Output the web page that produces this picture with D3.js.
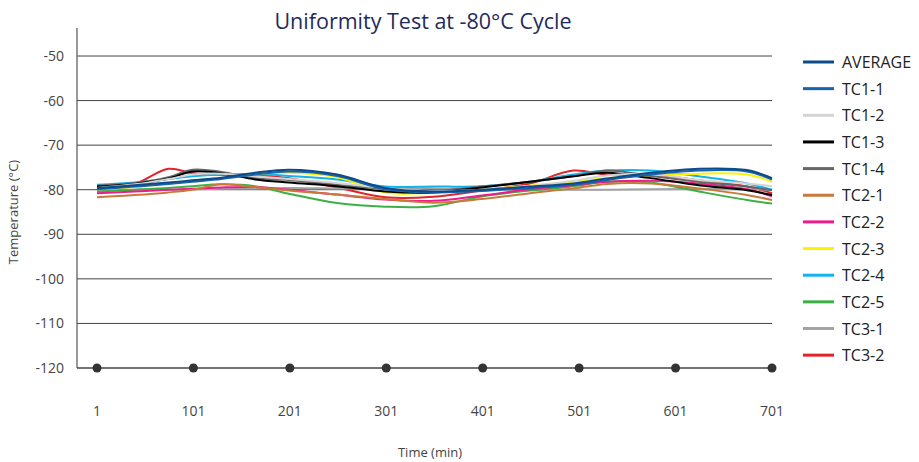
<!DOCTYPE html>
<html>
<head>
<meta charset="utf-8">
<script src="https://cdn.jsdelivr.net/npm/d3@7"></script>
<style>
  body { margin: 0; background: #fff; }
  svg { font-family: "Open Sans", "Noto Sans", sans-serif; }
</style>
</head>
<body>
<svg id="chart"></svg>
<script>
// sample times (min) shared by all series
const times = [1, 40, 75, 100, 130, 165, 200, 250, 300, 350, 400, 450, 495, 530, 575, 625, 675, 701];

const average = [-79.6, -79.0, -78.4, -77.9, -77.3, -76.2, -75.5, -76.6, -79.6, -80.4, -80.0, -79.3, -78.6, -77.5, -76.2, -75.3, -75.6, -77.4];
const tc11 = [-79.9, -79.3, -78.7, -78.2, -77.6, -76.6, -75.9, -76.9, -79.9, -80.6, -80.3, -79.6, -78.9, -77.8, -76.6, -75.7, -75.9, -77.7];
const tc12 = [-79.6, -78.8, -77.6, -76.6, -76.4, -77.0, -77.6, -78.5, -79.6, -80.3, -80.0, -79.2, -78.0, -76.8, -76.5, -77.8, -78.6, -79.2];
const tc13 = [-79.3, -78.7, -77.5, -75.9, -76.3, -77.7, -78.4, -79.2, -80.4, -80.6, -79.5, -78.2, -77.0, -76.2, -77.4, -79.0, -80.1, -81.2];
const tc14 = [-79.1, -78.5, -77.2, -75.5, -76.0, -77.4, -77.8, -78.9, -79.8, -80.2, -79.3, -78.2, -77.0, -75.7, -76.9, -78.2, -79.3, -80.1];
const tc21 = [-81.7, -81.2, -80.6, -80.0, -78.8, -79.4, -80.2, -81.1, -82.1, -82.9, -82.1, -80.8, -79.7, -78.7, -78.6, -79.7, -81.2, -82.3];
const tc22 = [-80.8, -80.4, -80.0, -79.8, -79.5, -79.4, -80.0, -81.1, -82.2, -82.5, -81.3, -79.9, -79.0, -78.2, -78.0, -78.6, -79.9, -81.5];
const tc23 = [-79.9, -79.4, -78.6, -78.0, -77.4, -76.5, -76.2, -77.2, -80.6, -80.7, -80.0, -79.1, -78.2, -77.4, -76.9, -76.4, -76.6, -78.2];
const tc24 = [-78.9, -78.4, -77.6, -77.0, -76.6, -76.5, -76.9, -77.7, -79.3, -79.3, -79.2, -78.2, -76.6, -75.7, -75.7, -77.0, -78.6, -80.0];
const tc25 = [-80.4, -80.0, -79.6, -79.2, -78.8, -79.2, -80.9, -83.0, -83.8, -83.7, -81.5, -80.2, -79.2, -78.2, -78.4, -80.4, -82.3, -83.1];
const tc31 = [-80.0, -80.0, -80.0, -79.9, -79.8, -79.7, -79.6, -79.7, -79.8, -79.7, -79.9, -80.0, -80.0, -80.0, -79.9, -79.8, -79.9, -80.0];
const tc32 = [-79.3, -78.7, -75.3, -76.3, -76.7, -76.7, -77.4, -79.5, -81.7, -81.6, -80.2, -78.6, -75.7, -76.6, -76.6, -77.9, -79.3, -80.8];

const seriesNames = ["AVERAGE", "TC1-1", "TC1-2", "TC1-3", "TC1-4", "TC2-1", "TC2-2", "TC2-3", "TC2-4", "TC2-5", "TC3-1", "TC3-2"];
const seriesValues = [average, tc11, tc12, tc13, tc14, tc21, tc22, tc23, tc24, tc25, tc31, tc32];
const seriesColors = ["#0d4a8a", "#1763ae", "#d4d4d4", "#000000", "#666666", "#c97a3a", "#ec1c8c", "#fff200", "#12b3ec", "#3cb044", "#a3a3a3", "#e0242a"];

const xTicks = [1, 101, 201, 301, 401, 501, 601, 701];
const yTicks = [-50, -60, -70, -80, -90, -100, -110, -120];

const width = 919, height = 462;
const svg = d3.select("#chart").attr("width", width).attr("height", height);

const x = d3.scaleLinear().domain([1, 701]).range([97, 772]);
const y = d3.scaleLinear().domain([-120, -50]).range([368, 56]);

// title
svg.append("text")
   .attr("x", 423).attr("y", 29)
   .attr("text-anchor", "middle")
   .style("font-size", "21.5px")
   .style("fill", "#1f2b5e")
   .text("Uniformity Test at -80°C Cycle");

// grid lines (-80 sits under the data, -120 is the x axis)
svg.append("g")
   .selectAll("line")
   .data(yTicks.filter(d => d !== -120))
   .join("line")
   .attr("x1", 77).attr("x2", x(701))
   .attr("y1", d => y(d)).attr("y2", d => y(d))
   .attr("stroke", "#444")
   .attr("stroke-width", 1);

// left axis line
svg.append("line")
   .attr("x1", 77).attr("x2", 77)
   .attr("y1", y(-43.7)).attr("y2", y(-120))
   .attr("stroke", "#555")
   .attr("stroke-width", 1.2);

// y tick labels
svg.append("g")
   .selectAll("text")
   .data(yTicks)
   .join("text")
   .attr("x", 64)
   .attr("y", d => y(d) + 5)
   .attr("text-anchor", "end")
   .style("font-size", "14px")
   .style("fill", "#444")
   .text(d => d);

// lines
const line = d3.line()
   .x((d, i) => x(times[i]))
   .y(d => y(d))
   .curve(d3.curveCatmullRom.alpha(0.5));

svg.append("g")
   .selectAll("path")
   .data(seriesValues.map((v, i) => ({ name: seriesNames[i], values: v, color: seriesColors[i] })).reverse())
   .join("path")
   .attr("d", d => line(d.values))
   .attr("fill", "none")
   .attr("stroke", d => d.color)
   .attr("stroke-width", 2);

// x axis with dots
svg.append("line")
   .attr("x1", 77).attr("x2", x(701))
   .attr("y1", y(-120)).attr("y2", y(-120))
   .attr("stroke", "#444")
   .attr("stroke-width", 1.5);

svg.append("g")
   .selectAll("circle")
   .data(xTicks)
   .join("circle")
   .attr("cx", d => x(d))
   .attr("cy", y(-120))
   .attr("r", 4.5)
   .attr("fill", "#333");

svg.append("g")
   .selectAll("text")
   .data(xTicks)
   .join("text")
   .attr("x", d => x(d))
   .attr("y", 416)
   .attr("text-anchor", "middle")
   .style("font-size", "14px")
   .style("fill", "#444")
   .text(d => d);

// axis titles
svg.append("text")
   .attr("x", 430).attr("y", 457)
   .attr("text-anchor", "middle")
   .style("font-size", "13px")
   .style("fill", "#444")
   .text("Time (min)");

svg.append("text")
   .attr("transform", "translate(18,212) rotate(-90)")
   .attr("text-anchor", "middle")
   .style("font-size", "13px")
   .style("fill", "#444")
   .text("Temperature (°C)");

// legend
const legend = svg.append("g")
   .selectAll("g")
   .data(seriesNames)
   .join("g")
   .attr("transform", (d, i) => `translate(803, ${62 + i * 26.65})`);

legend.append("line")
   .attr("x1", 0).attr("x2", 31)
   .attr("stroke", (d, i) => seriesColors[i])
   .attr("stroke-width", 3);

legend.append("text")
   .attr("x", 39)
   .attr("y", 6)
   .style("font-size", "16px")
   .style("fill", "#222")
   .text(d => d);
</script>
</body>
</html>
